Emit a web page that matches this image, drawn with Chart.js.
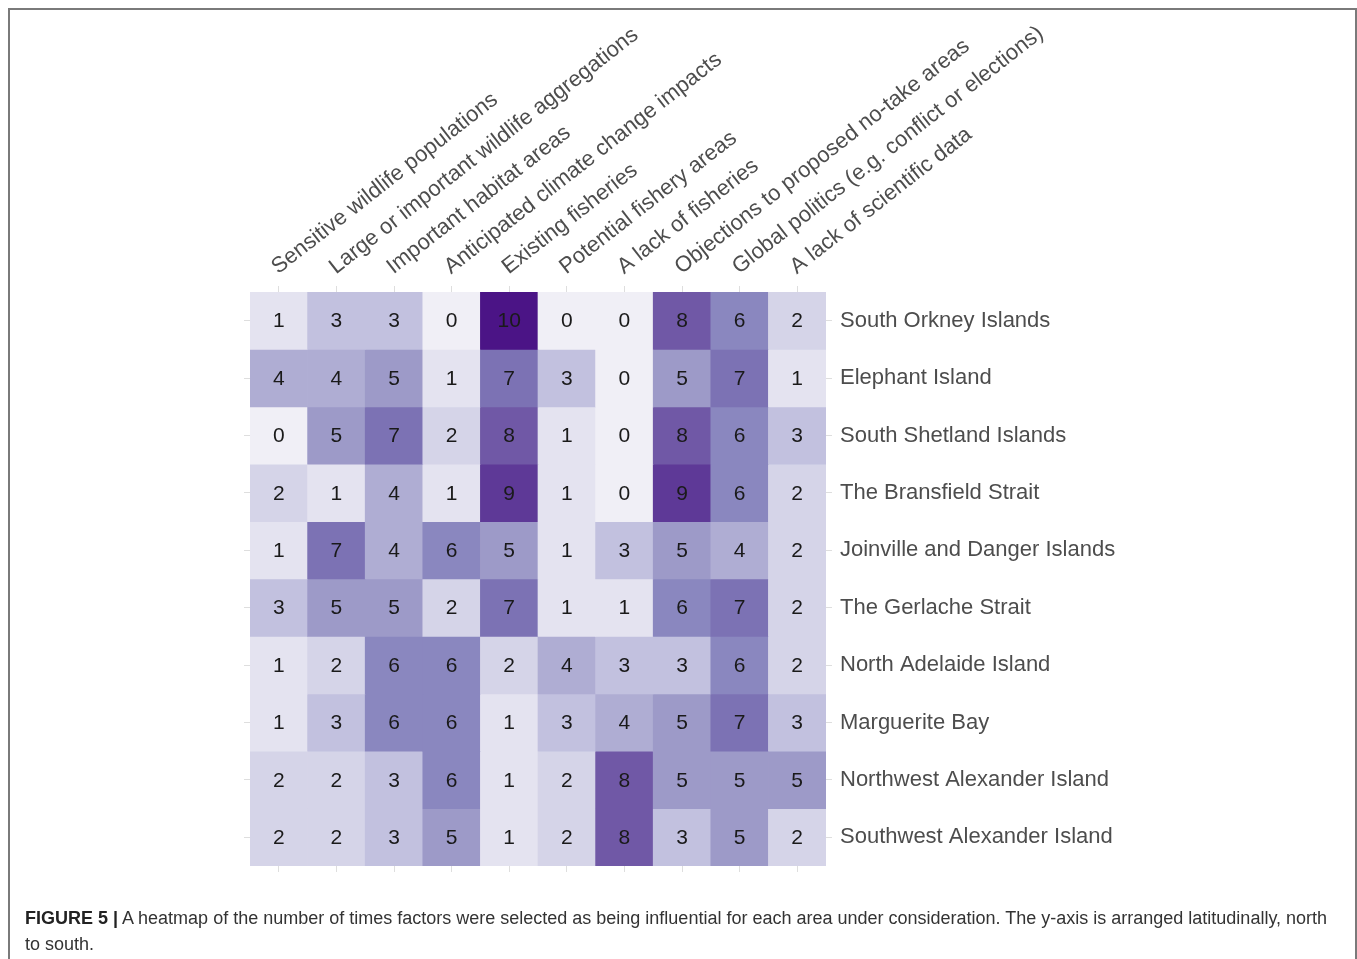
<!DOCTYPE html>
<html>
<head>
<meta charset="utf-8">
<script src="https://cdn.jsdelivr.net/npm/chart.js@4.4.1/dist/chart.umd.min.js"></script>
<style>
  body { margin: 0; background: #fff; font-family: "Liberation Sans", Arial, sans-serif; }
  #frame { position: absolute; left: 8px; top: 8px; width: 1345px; height: 960px; border: 2px solid #7a7a7a; border-bottom: none; }
  #heat { position: absolute; left: 0; top: 0; }
  #caption { position: absolute; left: 25px; top: 905px; width: 1315px; font-size: 18px; line-height: 26px; color: #333; }
  #caption b { color: #222; }
</style>
</head>
<body>
<div id="frame"></div>
<canvas id="heat" width="1357" height="959"></canvas>
<div id="caption"><b>FIGURE 5 |</b> A heatmap of the number of times factors were selected as being influential for each area under consideration. The y-axis is arranged latitudinally, north to south.</div>
<script>
const factors = [
  "Sensitive wildlife populations",
  "Large or important wildlife aggregations",
  "Important habitat areas",
  "Anticipated climate change impacts",
  "Existing fisheries",
  "Potential fishery areas",
  "A lack of fisheries",
  "Objections to proposed no-take areas",
  "Global politics (e.g. conflict or elections)",
  "A lack of scientific data",
];

const areas = [
  "South Orkney Islands",
  "Elephant Island",
  "South Shetland Islands",
  "The Bransfield Strait",
  "Joinville and Danger Islands",
  "The Gerlache Strait",
  "North Adelaide Island",
  "Marguerite Bay",
  "Northwest Alexander Island",
  "Southwest Alexander Island",
];

// one row per area, one value per factor
const counts = [
  [1, 3, 3, 0, 10, 0, 0, 8, 6, 2],
  [4, 4, 5, 1, 7, 3, 0, 5, 7, 1],
  [0, 5, 7, 2, 8, 1, 0, 8, 6, 3],
  [2, 1, 4, 1, 9, 1, 0, 9, 6, 2],
  [1, 7, 4, 6, 5, 1, 3, 5, 4, 2],
  [3, 5, 5, 2, 7, 1, 1, 6, 7, 2],
  [1, 2, 6, 6, 2, 4, 3, 3, 6, 2],
  [1, 3, 6, 6, 1, 3, 4, 5, 7, 3],
  [2, 2, 3, 6, 1, 2, 8, 5, 5, 5],
  [2, 2, 3, 5, 1, 2, 8, 3, 5, 2],
];

// fill colour for counts 0..10
const purples = [
  "#f0eff6", "#e4e3f0", "#d5d4e8", "#c2c1df", "#afadd3", "#9d9ac8",
  "#8a87bf", "#7c72b4", "#7058a6", "#5e3997", "#4b1486",
];

Chart.defaults.font.family = '"Liberation Sans", Arial, sans-serif';

const tickGrid = { drawOnChartArea: false, offset: false, tickLength: 6, color: "#dedede", lineWidth: 1 };

// writes the count in the middle of each tile
const cellLabels = {
  id: "cellLabels",
  afterDatasetsDraw(chart) {
    const ctx = chart.ctx;
    ctx.save();
    ctx.font = '21px "Liberation Sans", Arial, sans-serif';
    ctx.fillStyle = "#1a1a1a";
    ctx.textAlign = "center";
    ctx.textBaseline = "middle";
    chart.data.datasets.forEach((ds, r) => {
      chart.getDatasetMeta(r).data.forEach((bar, c) => {
        const p = bar.getCenterPoint();
        ctx.fillText(String(counts[r][c]), p.x, p.y + 1);
      });
    });
    ctx.restore();
  },
};

const heatChart = new Chart(document.getElementById("heat"), {
  type: "bar",
  data: {
    labels: factors,
    datasets: areas.map((area, r) => ({
      label: area,
      data: counts[r].map(() => 1),
      backgroundColor: counts[r].map((v) => purples[v]),
      borderWidth: 0,
      barPercentage: 1,
      categoryPercentage: 1,
    })),
  },
  options: {
    responsive: false,
    animation: false,
    layout: { padding: { left: 244, top: 0, right: 0, bottom: 87 } },
    scales: {
      x: {
        type: "category",
        position: "top",
        stacked: true,
        offset: true,
        grid: tickGrid,
        border: { display: false },
        ticks: {
          autoSkip: false,
          minRotation: 38,
          maxRotation: 38,
          padding: 6,
          labelOffset: 12,
          color: "#4d4d4d",
          font: { size: 22 },
        },
        afterFit: (s) => { s.height = 292; },
      },
      x2: {
        type: "category",
        labels: factors,
        position: "bottom",
        offset: true,
        grid: tickGrid,
        border: { display: false },
        ticks: { display: false },
        afterFit: (s) => { s.height = 6; },
      },
      y: {
        stacked: true,
        min: 0,
        max: 10,
        reverse: true,
        display: false,
      },
      yl: {
        type: "category",
        labels: areas,
        position: "right",
        offset: true,
        grid: tickGrid,
        border: { display: false },
        ticks: { padding: 8, color: "#4d4d4d", font: { size: 22 } },
        afterFit: (s) => { s.width = 531; },
      },
      yt: {
        type: "category",
        labels: areas,
        position: "left",
        offset: true,
        grid: tickGrid,
        border: { display: false },
        ticks: { display: false },
        afterFit: (s) => { s.width = 6; },
      },
    },
    plugins: {
      legend: { display: false },
      tooltip: { enabled: false },
    },
  },
  plugins: [cellLabels],
});
</script>
</body>
</html>
